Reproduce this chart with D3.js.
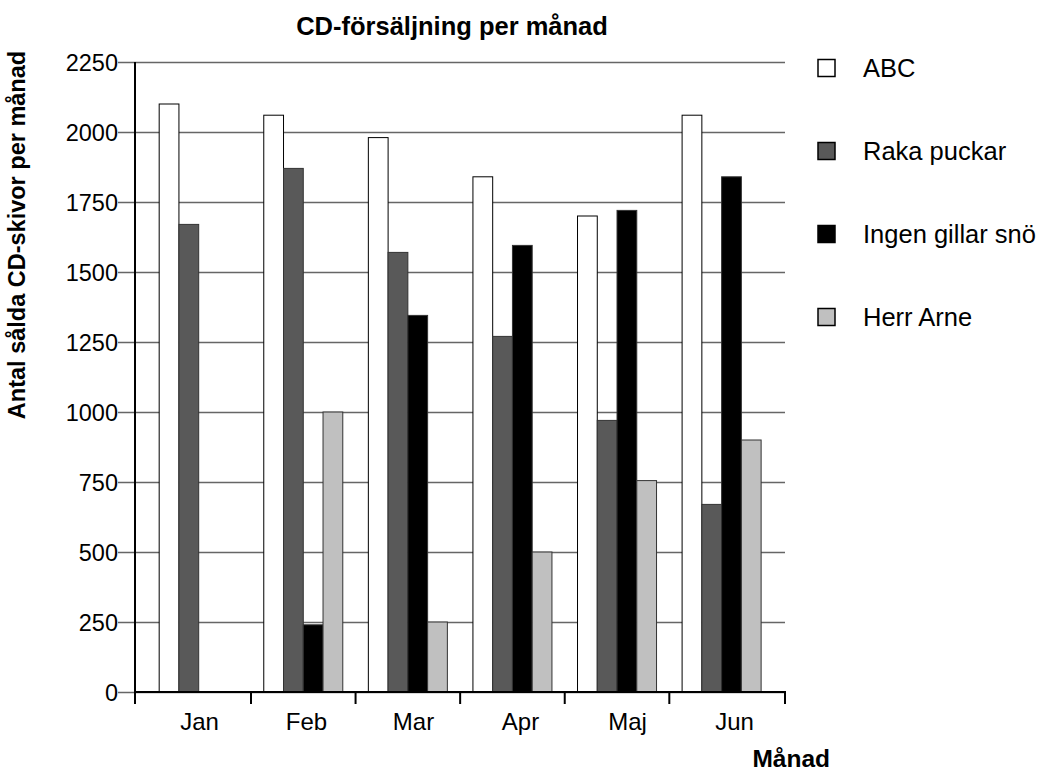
<!DOCTYPE html>
<head>
  <meta charset="utf-8">
  <script src="https://d3js.org/d3.v7.min.js"></script>
  <style>
    body { margin:0; background:#fff; }
    text { font-family: "Liberation Sans", Arial, sans-serif; fill:#000; }
  </style>
</head>
<body>
<script>
// data
var months = ['Jan', 'Feb', 'Mar', 'Apr', 'Maj', 'Jun'];
var series = ['ABC', 'Raka puckar', 'Ingen gillar snö', 'Herr Arne'];
var abc        = [2100, 2060, 1980, 1840, 1700, 2060];
var rakaPuckar = [1670, 1870, 1570, 1270, 970, 670];
var ingenSno   = [0, 240, 1345, 1595, 1720, 1840];
var herrArne   = [0, 1000, 250, 500, 755, 900];
var yTicks = [0, 250, 500, 750, 1000, 1250, 1500, 1750, 2000, 2250];
var colors = ['#ffffff', '#595959', '#000000', '#c0c0c0'];

var values = [abc, rakaPuckar, ingenSno, herrArne];
var table = months.map(function(m, i){
  return {month: m, vals: series.map(function(s, j){ return {s: s, v: values[j][i]}; })};
});

var width = 1037, height = 771;
var plotLeft = 135, plotRight = 785, plotTop = 62, plotBottom = 692;

var svg = d3.select('body').append('svg')
  .attr('width', width).attr('height', height);

var y = d3.scaleLinear().domain([0, 2250]).range([plotBottom, plotTop]);
var x0 = d3.scaleBand().domain(months).range([146.4, 773.9]).padding(0);
var x1 = d3.scaleBand().domain(series).range([0, x0.bandwidth()])
  .paddingInner(0).paddingOuter(0.647);
var xLab = d3.scalePoint().domain(months).range([199.5, 734.5]);
var color = d3.scaleOrdinal().domain(series).range(colors);

// gridlines + y ticks
var grid = svg.append('g').attr('transform', 'translate(' + plotRight + ',0)')
  .call(d3.axisLeft(y).tickValues(yTicks).tickSize(plotRight - 118).tickFormat(''));
grid.select('.domain').remove();
grid.selectAll('line').attr('stroke', '#666').attr('stroke-width', 1.5);

var yAxis = svg.append('g').attr('transform', 'translate(' + plotLeft + ',0)')
  .call(d3.axisLeft(y).tickValues(yTicks).tickSize(0).tickPadding(17).tickFormat(d3.format('d')));
yAxis.select('.domain').remove();
yAxis.selectAll('text').style('font-size', '23.5px').attr('dy', '0.36em');

// bars
var groups = svg.append('g').selectAll('g').data(table).enter().append('g')
  .attr('transform', function(d){ return 'translate(' + x0(d.month) + ',0)'; });
groups.selectAll('rect').data(function(d){ return d.vals; }).enter().append('rect')
  .attr('x', function(d){ return x1(d.s); })
  .attr('y', function(d){ return y(d.v); })
  .attr('width', x1.bandwidth())
  .attr('height', function(d){ return plotBottom - y(d.v); })
  .attr('fill', function(d){ return color(d.s); })
  .attr('stroke', function(d){ return d.s == 'ABC' ? '#000' : '#333'; })
  .attr('stroke-width', 1);

// axes lines
svg.append('line').attr('x1', plotLeft).attr('x2', plotLeft).attr('y1', plotTop).attr('y2', plotBottom + 1)
  .attr('stroke', '#000').attr('stroke-width', 2);
svg.append('line').attr('x1', plotLeft).attr('x2', plotRight + 1).attr('y1', plotBottom).attr('y2', plotBottom)
  .attr('stroke', '#000').attr('stroke-width', 2);

var bounds = [plotLeft].concat(months.slice(1).map(function(m){ return x0(m); })).concat([plotRight]);
svg.append('g').selectAll('line').data(bounds).enter().append('line')
  .attr('x1', function(d){ return d; }).attr('x2', function(d){ return d; })
  .attr('y1', plotBottom).attr('y2', plotBottom + 12)
  .attr('stroke', '#000').attr('stroke-width', 2);

svg.append('g').selectAll('text').data(months).enter().append('text')
  .attr('x', function(d){ return xLab(d); }).attr('y', 730)
  .attr('text-anchor', 'middle').style('font-size', '24px')
  .text(function(d){ return d; });

// titles
svg.append('text').attr('x', 452).attr('y', 35).attr('text-anchor', 'middle')
  .style('font-size', '25.5px').style('font-weight', 'bold')
  .text('CD-försäljning per månad');
svg.append('text').attr('x', 830).attr('y', 767).attr('text-anchor', 'end')
  .style('font-size', '24.5px').style('font-weight', 'bold')
  .text('Månad');
svg.append('text').attr('transform', 'translate(25,235) rotate(-90)')
  .attr('text-anchor', 'middle')
  .style('font-size', '23.5px').style('font-weight', 'bold')
  .text('Antal sålda CD-skivor per månad');

// legend
var legend = svg.append('g').selectAll('g').data(series).enter().append('g')
  .attr('transform', function(d, i){ return 'translate(818,' + (68 + i * 83) + ')'; });
legend.append('rect').attr('x', 0).attr('y', -8.5).attr('width', 17).attr('height', 17)
  .attr('fill', function(d){ return color(d); })
  .attr('stroke', '#000').attr('stroke-width', 1.5);
legend.append('text').attr('x', 45).attr('y', 0).attr('dy', '0.35em')
  .style('font-size', '25.5px').text(function(d){ return d; });
</script>
</body>
